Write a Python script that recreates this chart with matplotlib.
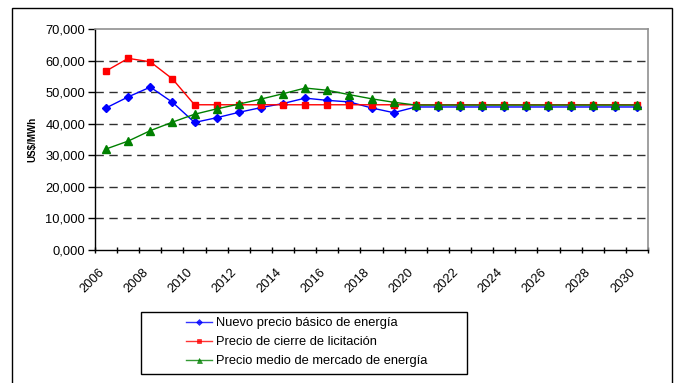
import matplotlib
matplotlib.use("Agg")
import matplotlib.pyplot as plt
from matplotlib.patches import Rectangle
from matplotlib.ticker import FuncFormatter
from matplotlib.transforms import ScaledTranslation

plt.rcParams['font.family'] = ['Liberation Sans', 'DejaVu Sans']

years = list(range(2006, 2031))
nuevo_precio = [45.0, 48.5, 51.6, 46.8, 40.4, 41.9, 43.6, 45.1, 46.4, 48.1, 47.4, 46.9, 45.0, 43.5,
                45.3, 45.3, 45.3, 45.3, 45.3, 45.3, 45.3, 45.3, 45.3, 45.3, 45.3]
precio_cierre = [56.7, 60.7, 59.6, 54.2, 46.0, 46.0, 46.0, 46.0, 46.0, 46.0, 46.0, 46.0, 46.0, 46.0,
                 46.0, 46.0, 46.0, 46.0, 46.0, 46.0, 46.0, 46.0, 46.0, 46.0, 46.0]
precio_medio = [32.0, 34.5, 37.8, 40.5, 43.0, 44.7, 46.2, 47.8, 49.5, 51.3, 50.6, 49.2, 47.9, 46.8,
                45.9, 45.9, 45.9, 45.9, 45.9, 45.9, 45.9, 45.9, 45.9, 45.9, 45.9]
series_names = ["Nuevo precio básico de energía", "Precio de cierre de licitación",
                "Precio medio de mercado de energía"]
y_ticks = [0, 10, 20, 30, 40, 50, 60, 70]

W, H = 674, 383
fig = plt.figure(figsize=(W / 100, H / 100), dpi=100)
fig.patch.set_facecolor('white')

# outer chart frame
fig.patches.append(Rectangle((12 / W, -0.05), (672 - 12) / W, 1.05 - 8 / H,
                             transform=fig.transFigure, fill=False, edgecolor='black', lw=1.0))
# legend frame
fig.patches.append(Rectangle((141 / W, 1 - 374 / H), (467 - 141) / W, (374 - 312) / H,
                             transform=fig.transFigure, fill=False, edgecolor='black', lw=1.0))

left, right, top, bottom = 95, 648, 29, 250
ax = fig.add_axes([left / W, 1 - bottom / H, (right - left) / W, (bottom - top) / H])

x = list(range(len(years)))
ax.plot(x, nuevo_precio, color='#0000FF', lw=1.0, marker='D', ms=4, mec='#0000FF', mfc='#0000FF',
        label=series_names[0], zorder=3)
ax.plot(x, precio_cierre, color='#FF0000', lw=1.0, marker='s', ms=5, mec='#FF0000', mfc='#FF0000',
        label=series_names[1], zorder=4)
ax.plot(x, precio_medio, color='#008000', lw=1.0, marker='^', ms=5.5, mec='#008000', mfc='#008000',
        label=series_names[2], zorder=5)

ax.set_xlim(-0.5, len(years) - 0.5)
ax.set_ylim(0, 70)
ax.set_yticks(y_ticks)
ax.yaxis.set_major_formatter(FuncFormatter(lambda v, p: f"{int(v)},000"))
for v in y_ticks[1:-1]:
    ax.axhline(v, color='#303030', lw=1.0, linestyle=(0, (6, 4)), zorder=1)

# x ticks: marks between categories, labels every 2 categories
ax.set_xticks([i - 0.5 for i in range(len(years) + 1)], minor=True)
ax.set_xticks(x[::2])
ax.set_xticklabels([str(y) for y in years[::2]], rotation=45, ha='right',
                   rotation_mode='anchor', fontsize=9.3)
ax.tick_params(axis='x', which='major', length=0, pad=5)
ax.tick_params(axis='x', which='minor', length=5, direction='inout', width=1)
ax.tick_params(axis='y', length=5, direction='out', width=1, labelsize=9.3, pad=2)
offset = ScaledTranslation(-8 / 100, -9 / 100, fig.dpi_scale_trans)
for lbl in ax.get_xticklabels():
    lbl.set_transform(lbl.get_transform() + offset)

for s in ['top', 'right']:
    ax.spines[s].set_color('#909090')
    ax.spines[s].set_linewidth(1.2)
for s in ['left', 'bottom']:
    ax.spines[s].set_color('black')
    ax.spines[s].set_linewidth(1.0)

ax.set_ylabel("US$/MWh", fontsize=7, fontweight='bold', labelpad=6)

handles, labels = ax.get_legend_handles_labels()
leg = fig.legend(handles, labels, loc='upper left', bbox_to_anchor=(186 / W, 1 - 317 / H),
                 fontsize=9.3, frameon=False, borderpad=0, labelspacing=0.55,
                 handlelength=2.0, handletextpad=0.3, borderaxespad=0)
for h, ms in zip(leg.legend_handles, [3.0, 3.2, 3.6]):
    h.set_markersize(ms)
    h.set_markeredgewidth(0.5)
    h.set_alpha(0.8)
fig.savefig('out.png', dpi=100)
